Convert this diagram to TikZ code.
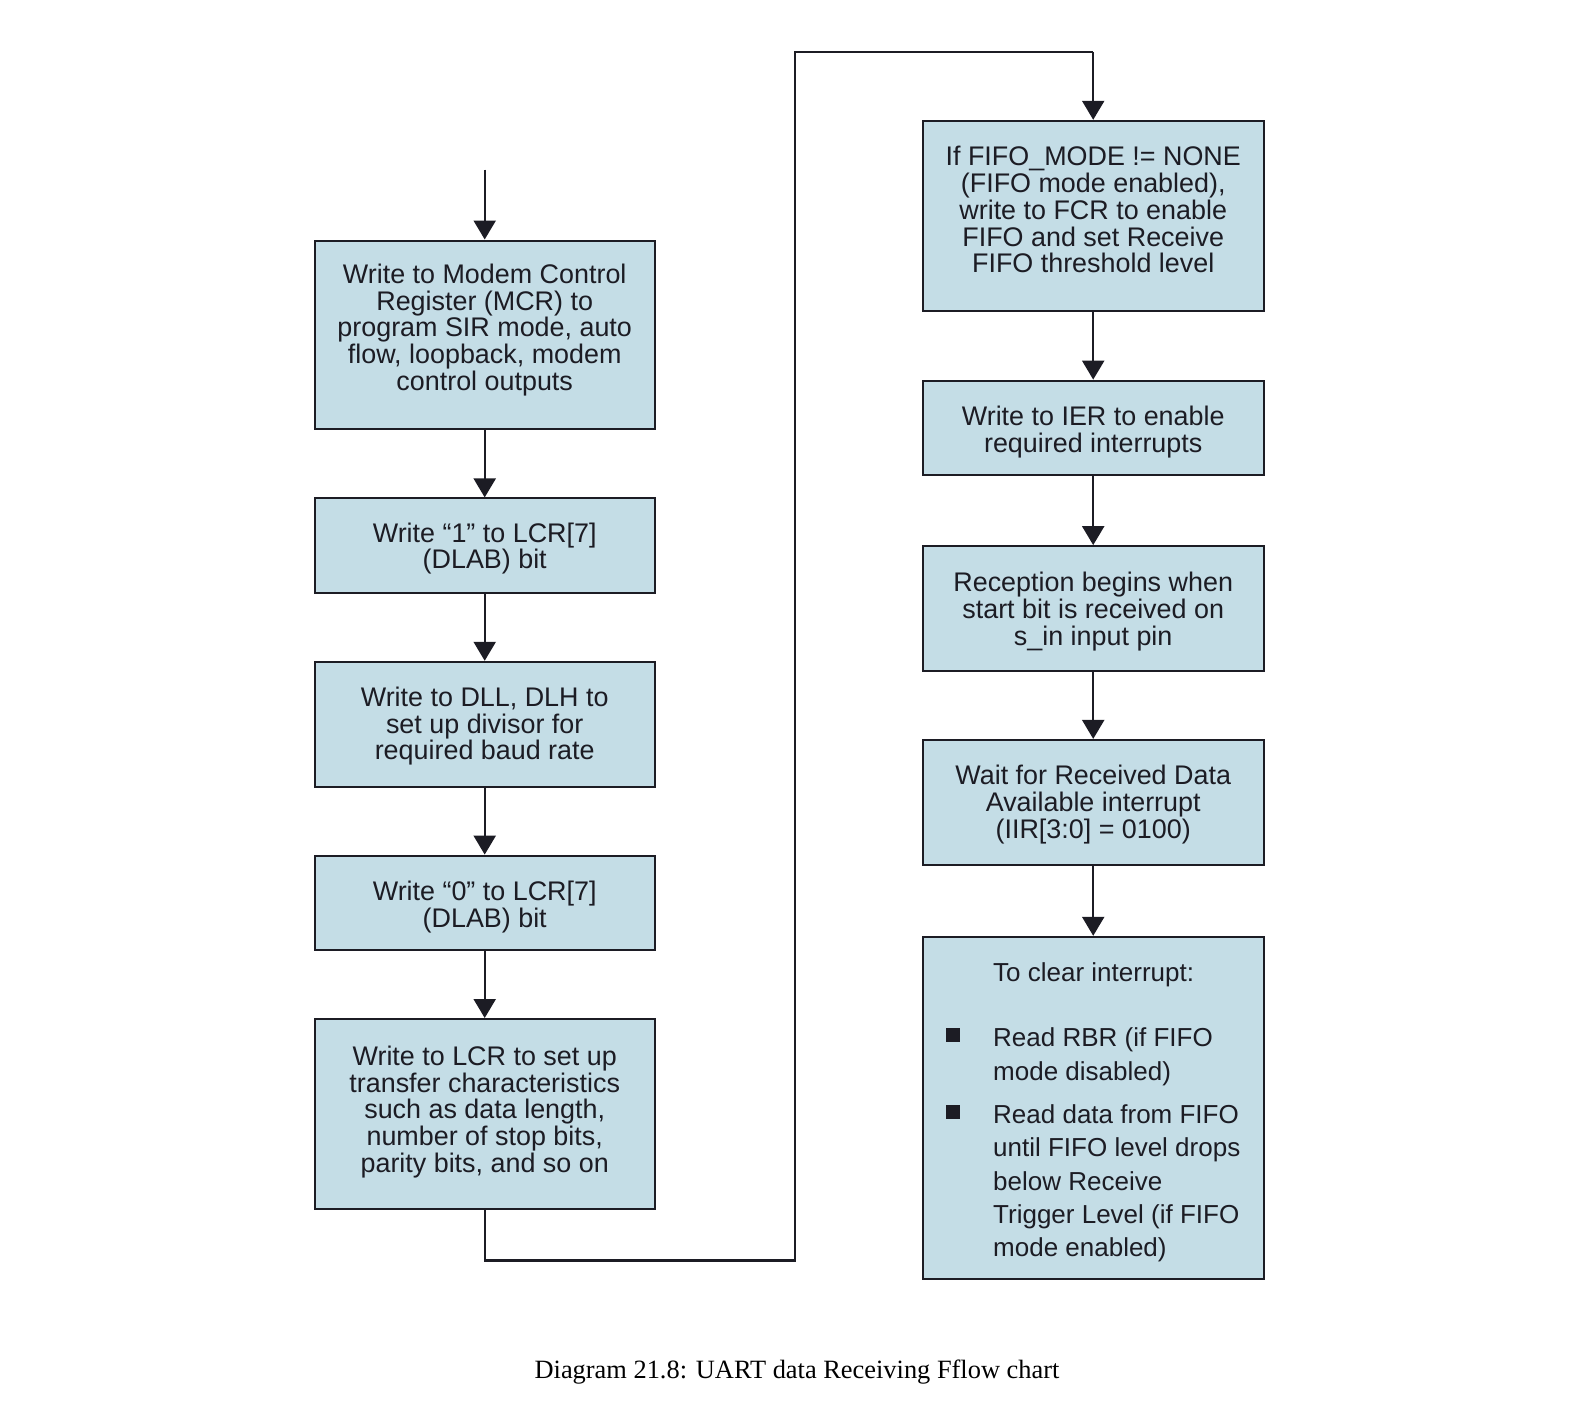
\documentclass[tikz,border=0pt]{standalone}
\usepackage{fontspec}
\setmainfont{Liberation Sans}
\newfontfamily\capfont{Liberation Serif}
\usetikzlibrary{arrows.meta}
\definecolor{boxfill}{HTML}{C4DDE6}
\definecolor{ink}{HTML}{1C1C24}
\begin{document}
\begin{tikzpicture}[x=1pt,y=-1pt,
  box/.style={draw=ink, line width=2pt, fill=boxfill, minimum width=340pt,
    inner sep=0pt, anchor=north},
  boxtext/.style={inner sep=0pt, align=center, text=ink,
    font=\fontsize{26.9}{26.7}\selectfont},
  flow/.style={draw=ink, line width=2.3pt, -{Triangle[length=19pt,width=22pt]}},
  plain/.style={draw=ink, line width=2.3pt},
  itemtext/.style={anchor=north west, inner sep=0pt, align=left, text=ink,
    font=\fontsize{26}{33.3}\selectfont},
  bulletsq/.style={fill=ink, minimum size=14pt, inner sep=0pt}]
\useasboundingbox (0,0) rectangle (1594,1406);

% left column
\coordinate (start) at (484.7,169.5);
\node[box, minimum height=188.8pt] (b1) at (484.7,239.5) {};
\node[boxtext] (b1t) at ([yshift=5pt]b1.center)
  {Write to Modem Control\\Register (MCR) to\\program SIR mode, auto\\flow, loopback, modem\\control outputs};
\node[box, minimum height=94.4pt] (b2) at (484.7,497.4) {};
\node[boxtext] (b2t) at ([yshift=-3pt]b2.center)
  {Write “1” to LCR[7]\\(DLAB) bit};
\node[box, minimum height=124.8pt] (b3) at (484.7,660.8) {};
\node[boxtext] (b3t) at ([yshift=-2pt]b3.center)
  {Write to DLL, DLH to\\set up divisor for\\required baud rate};
\node[box, minimum height=94.4pt] (b4) at (484.7,854.6) {};
\node[boxtext] (b4t) at ([yshift=-4pt]b4.center)
  {Write “0” to LCR[7]\\(DLAB) bit};
\node[box, minimum height=189.8pt] (b5) at (484.7,1018.0) {};
\node[boxtext] (b5t) at ([yshift=2pt]b5.center)
  {Write to LCR to set up\\transfer characteristics\\such as data length,\\number of stop bits,\\parity bits, and so on};

% right column
\node[box, minimum height=189.8pt, minimum width=341pt] (b6) at (1093.2,119.8) {};
\node[boxtext] (b6t) at ([yshift=6pt]b6.center)
  {If FIFO\_MODE != NONE\\(FIFO mode enabled),\\write to FCR to enable\\FIFO and set Receive\\FIFO threshold level};
\node[box, minimum height=94.4pt, minimum width=341pt] (b7) at (1093.2,379.6) {};
\node[boxtext] (b7t) at ([yshift=-4pt]b7.center)
  {Write to IER to enable\\required interrupts};
\node[box, minimum height=124.8pt, minimum width=341pt] (b8) at (1093.2,545.1) {};
\node[boxtext] (b8t) at ([yshift=-3pt]b8.center)
  {Reception begins when\\start bit is received on\\s\_in input pin};
\node[box, minimum height=124.9pt, minimum width=341pt] (b9) at (1093.2,738.9) {};
\node[boxtext] (b9t) at ([yshift=-2pt]b9.center)
  {Wait for Received Data\\Available interrupt\\(IIR[3:0] = 0100)};
\node[box, minimum height=342.1pt, minimum width=341pt] (b10) at (1093.2,935.8) {};

% contents of the last box
\node[itemtext] (t10) at (993,962.9) {To clear interrupt:};
\node[bulletsq] (s1) at (952.5,1035) {};
\node[itemtext] (i1) at (993,1027.9) {Read RBR (if FIFO\\mode disabled)};
\node[bulletsq] (s2) at (952.5,1111.5) {};
\node[itemtext] (i2) at (993,1104.5) {Read data from FIFO\\until FIFO level drops\\below Receive\\Trigger Level (if FIFO\\mode enabled)};

% connectors
\draw[flow] (start) -- (b1.north);
\draw[flow] (b1.south) -- (b2.north);
\draw[flow] (b2.south) -- (b3.north);
\draw[flow] (b3.south) -- (b4.north);
\draw[flow] (b4.south) -- (b5.north);
\coordinate (lb) at (484.7,1260.6);
\coordinate (lm) at (794.7,1260.6);
\coordinate (lt) at (794.7,51.8);
\coordinate (rt) at (1093.2,51.8);
\draw[plain] (b5.south) -- (lb) -- (lm) -- (lt) -- (rt);
\draw[flow] (rt) -- (b6.north);
\draw[flow] (b6.south) -- (b7.north);
\draw[flow] (b7.south) -- (b8.north);
\draw[flow] (b8.south) -- (b9.north);
\draw[flow] (b9.south) -- (b10.north);

% caption
\node[font=\capfont\fontsize{26.4}{30}\selectfont, text=black] (cap) at (797,1372)
  {Diagram 21.8: UART data Receiving Fflow chart};
\end{tikzpicture}
\end{document}
